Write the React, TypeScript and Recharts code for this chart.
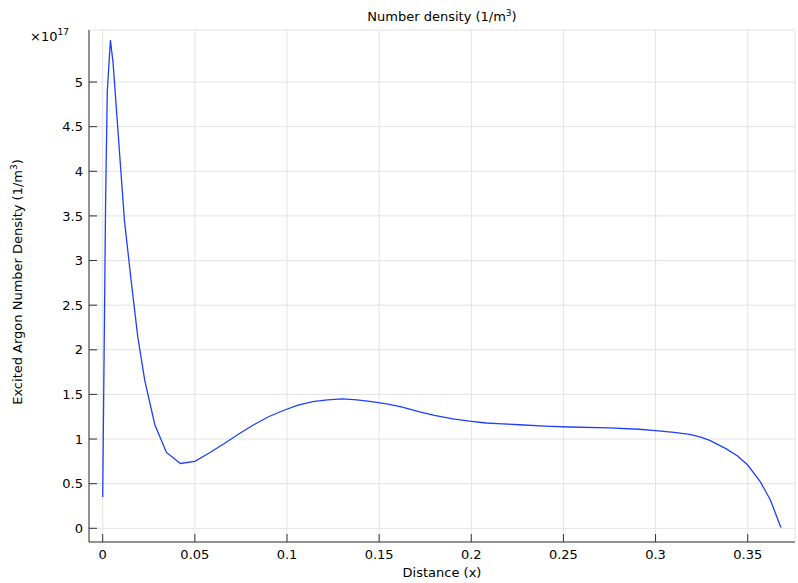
import { LineChart, Line, XAxis, YAxis, CartesianGrid } from "recharts"

// distance along x (m) and excited argon density (x 1e17 1/m^3)
const distance = [
  0, 0.0016, 0.0025, 0.0042, 0.0056, 0.0118, 0.0153, 0.019, 0.0228, 0.0283, 0.0346, 0.0422, 0.05, 0.058,
  0.066, 0.074, 0.082, 0.09, 0.098, 0.106, 0.114, 0.122, 0.13, 0.138, 0.146, 0.154, 0.162, 0.172, 0.18,
  0.19, 0.199, 0.208, 0.217, 0.226, 0.24, 0.253, 0.275, 0.291, 0.3, 0.31, 0.3185, 0.3245, 0.3294, 0.3384,
  0.3445, 0.35, 0.3569, 0.3623, 0.368,
]
const density = [
  0.35, 3.7, 4.9, 5.47, 5.22, 3.45, 2.8, 2.15, 1.66, 1.16, 0.85, 0.726, 0.75, 0.846,
  0.95, 1.06, 1.16, 1.25, 1.32, 1.38, 1.42, 1.44, 1.45, 1.44, 1.42, 1.395, 1.36, 1.305, 1.265,
  1.225, 1.2, 1.18, 1.17, 1.16, 1.145, 1.135, 1.125, 1.11, 1.095, 1.075, 1.053, 1.022, 0.985, 0.89,
  0.81, 0.709, 0.52, 0.317, 0.01,
]

const xTicks = [0, 0.05, 0.1, 0.15, 0.2, 0.25, 0.3, 0.35]
const yTicks = [0, 0.5, 1, 1.5, 2, 2.5, 3, 3.5, 4, 4.5, 5]

const data = distance.map((x, i) => ({ x, y: density[i] }))

const font = "'DejaVu Sans', sans-serif"
const frame = "#333"

const BottomTick = ({ x, y, payload }: any) => (
  <g>
    <line x1={x} x2={x} y1={y} y2={y - 8} stroke={frame} />
    <text x={x} y={y + 16.5} textAnchor="middle" fontSize={13} fontFamily={font} fill="#000">
      {payload.value}
    </text>
  </g>
)

const TopTick = ({ x, y }: any) => <line x1={x} x2={x} y1={y} y2={y + 8} stroke={frame} />

const LeftTick = ({ x, y, payload }: any) => (
  <g>
    <line x1={x} x2={x + 8} y1={y} y2={y} stroke={frame} />
    <text x={x - 6} y={y} dy="0.36em" textAnchor="end" fontSize={13} fontFamily={font} fill="#000">
      {payload.value}
    </text>
  </g>
)

const RightTick = ({ x, y }: any) => <line x1={x} x2={x - 8} y1={y} y2={y} stroke={frame} />

export default function App() {
  return (
    <div style={{ position: "absolute", left: 0, top: 0, width: 798, height: 583, background: "#fff" }}>
      <LineChart width={798} height={583} data={data} margin={{ top: 30, right: 3, left: 0, bottom: 0 }}>
        <CartesianGrid stroke="#e3e3e3" strokeWidth={1} />
        <XAxis
          dataKey="x"
          type="number"
          domain={[-0.00743, 0.37566]}
          ticks={xTicks}
          allowDataOverflow
          interval={0}
          height={41}
          tickSize={0}
          tickMargin={0}
          tickLine={false}
          axisLine={{ stroke: frame }}
          tick={<BottomTick />}
        />
        <XAxis
          xAxisId="top"
          orientation="top"
          dataKey="x"
          type="number"
          domain={[-0.00743, 0.37566]}
          ticks={xTicks}
          allowDataOverflow
          interval={0}
          height={0}
          tickSize={0}
          tickMargin={0}
          tickLine={false}
          axisLine={{ stroke: frame }}
          tick={<TopTick />}
        />
        <YAxis
          type="number"
          domain={[-0.1535, 5.583]}
          ticks={yTicks}
          allowDataOverflow
          interval={0}
          width={89}
          tickSize={0}
          tickMargin={0}
          tickLine={false}
          axisLine={{ stroke: frame }}
          tick={<LeftTick />}
        />
        <YAxis
          yAxisId="right"
          orientation="right"
          type="number"
          domain={[-0.1535, 5.583]}
          ticks={yTicks}
          allowDataOverflow
          interval={0}
          width={0}
          tickSize={0}
          tickMargin={0}
          tickLine={false}
          axisLine={{ stroke: frame }}
          tick={<RightTick />}
        />
        <Line
          type="linear"
          dataKey="y"
          stroke="#1f3fff"
          strokeWidth={1.3}
          dot={false}
          isAnimationActive={false}
        />
      </LineChart>
      <svg
        width={798}
        height={583}
        style={{ position: "absolute", left: 0, top: 0, pointerEvents: "none" }}
        fontFamily={font}
        fill="#000"
      >
        <text x={442} y={20.5} textAnchor="middle" fontSize={13}>
          Number density (1/m<tspan dy={-5} fontSize={9}>3</tspan>
          <tspan dy={5}>)</tspan>
        </text>
        <text x={30} y={40.5} fontSize={13}>
          ×10<tspan dy={-6} fontSize={9}>17</tspan>
        </text>
        <text x={442} y={576.5} textAnchor="middle" fontSize={13}>
          Distance (x)
        </text>
        <text x={0} y={0} transform="translate(22 282) rotate(-90)" textAnchor="middle" fontSize={13}>
          Excited Argon Number Density (1/m<tspan dy={-5} fontSize={9}>3</tspan>
          <tspan dy={5}>)</tspan>
        </text>
      </svg>
    </div>
  )
}
